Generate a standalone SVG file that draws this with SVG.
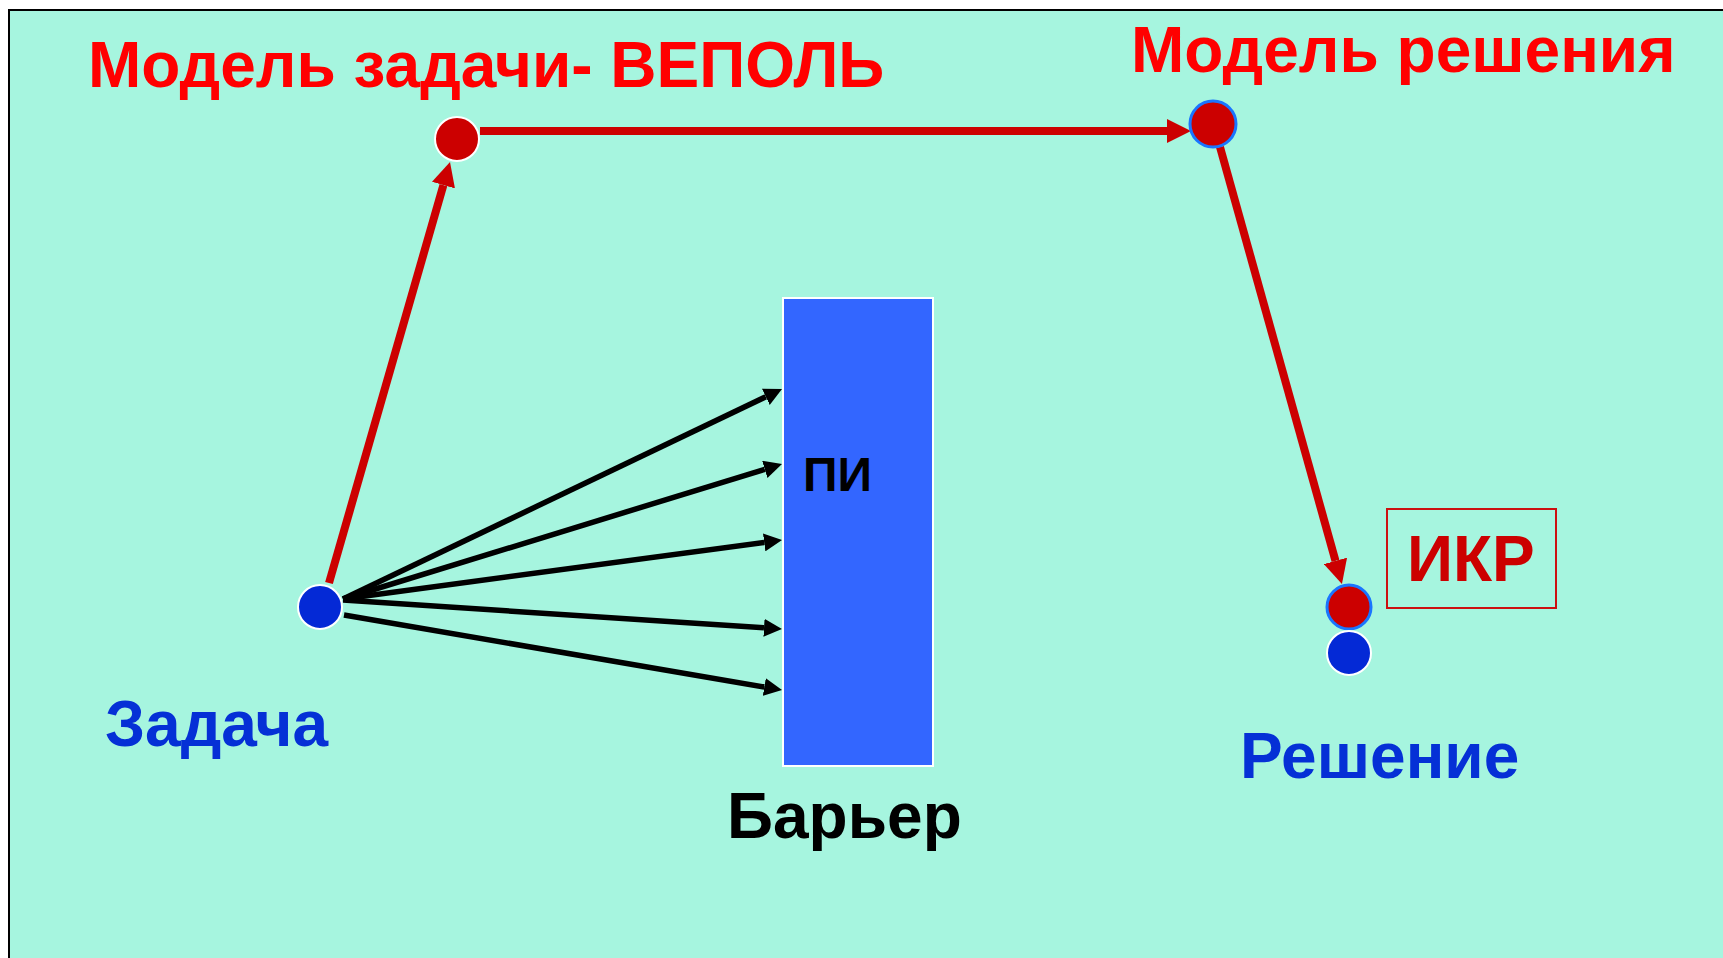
<svg xmlns="http://www.w3.org/2000/svg" width="1723" height="958" viewBox="0 0 1723 958">
  <style>
    .lbl { font-family: "Liberation Sans", Arial, sans-serif; font-weight: bold; font-size: 64px; }
    .red-title { fill: #FF0000; }
    .blue-lbl { fill: #0530D6; }
    .dark { fill: #000000; }
    .red-line { stroke: #CC0000; stroke-width: 8; fill: none; }
    .black-line { stroke: #000000; stroke-width: 5.5; fill: none; }
    .dot-red { fill: #CC0000; }
    .dot-blue { fill: #0429D6; stroke: #FFFFFF; stroke-width: 2; }
  </style>
  <defs>
    <marker id="redHead" markerUnits="userSpaceOnUse" viewBox="0 0 24 24" refX="0" refY="12" markerWidth="24" markerHeight="24" orient="auto">
      <path d="M0,0 L24,12 L0,24 Z" fill="#CC0000"/>
    </marker>
    <marker id="blackHead" markerUnits="userSpaceOnUse" viewBox="0 0 18 18" refX="0" refY="9" markerWidth="18" markerHeight="18" orient="auto">
      <path d="M0,0 L18,9 L0,18 Z" fill="#000000"/>
    </marker>
  </defs>

  <!-- page and panel -->
  <rect x="0" y="0" width="1723" height="958" fill="#FFFFFF"/>
  <rect x="9" y="10" width="1730" height="960" fill="#A6F5DF" stroke="#000000" stroke-width="2"/>

  <!-- titles -->
  <g id="title-model-task">
    <text class="lbl red-title" x="88" y="87">Модель задачи- ВЕПОЛЬ</text>
  </g>
  <g id="title-model-solution">
    <text class="lbl red-title" x="1131" y="72">Модель решения</text>
  </g>

  <!-- connectors -->
  <g id="connectors">
    <line class="red-line" x1="480" y1="131" x2="1167" y2="131" marker-end="url(#redHead)"/>
    <line class="red-line" x1="1220" y1="147" x2="1335.5" y2="560.9" marker-end="url(#redHead)"/>
    <line class="red-line" x1="329" y1="583" x2="443.4" y2="185.1" marker-end="url(#redHead)"/>

    <line class="black-line" x1="343" y1="599" x2="765.8" y2="396.8" marker-end="url(#blackHead)"/>
    <line class="black-line" x1="343" y1="599" x2="764.8" y2="469.3" marker-end="url(#blackHead)"/>
    <line class="black-line" x1="343" y1="599" x2="764.2" y2="542.4" marker-end="url(#blackHead)"/>
    <line class="black-line" x1="343" y1="600" x2="764.0" y2="627.8" marker-end="url(#blackHead)"/>
    <line class="black-line" x1="344" y1="615" x2="764.3" y2="687.0" marker-end="url(#blackHead)"/>
  </g>

  <!-- barrier -->
  <g id="barrier">
    <rect x="783" y="298" width="150" height="468" fill="#3366FF" stroke="#FFFFFF" stroke-width="2"/>
    <text class="lbl dark" x="803" y="491" style="font-size:48px">ПИ</text>
    <text class="lbl dark" x="727" y="838">Барьер</text>
  </g>

  <!-- task -->
  <g id="task">
    <circle class="dot-blue" cx="320" cy="607" r="22"/>
    <text class="lbl blue-lbl" x="105" y="746">Задача</text>
  </g>

  <!-- task model -->
  <g id="task-model">
    <circle class="dot-red" cx="457" cy="139" r="22" stroke="#FFFFFF" stroke-width="2"/>
  </g>

  <!-- solution model -->
  <g id="solution-model">
    <circle class="dot-red" cx="1213" cy="124" r="23" stroke="#1A75FF" stroke-width="3"/>
  </g>

  <!-- solution -->
  <g id="solution">
    <circle class="dot-red" cx="1349" cy="607" r="22" stroke="#1A75FF" stroke-width="3"/>
    <circle class="dot-blue" cx="1349" cy="653" r="22"/>
    <text class="lbl blue-lbl" x="1240" y="778">Решение</text>
  </g>

  <!-- ideal final result -->
  <g id="ikr">
    <rect x="1387" y="509" width="169" height="99" fill="none" stroke="#CC1010" stroke-width="2"/>
    <text class="lbl" x="1407" y="581" fill="#CC0000">ИКР</text>
  </g>
</svg>
